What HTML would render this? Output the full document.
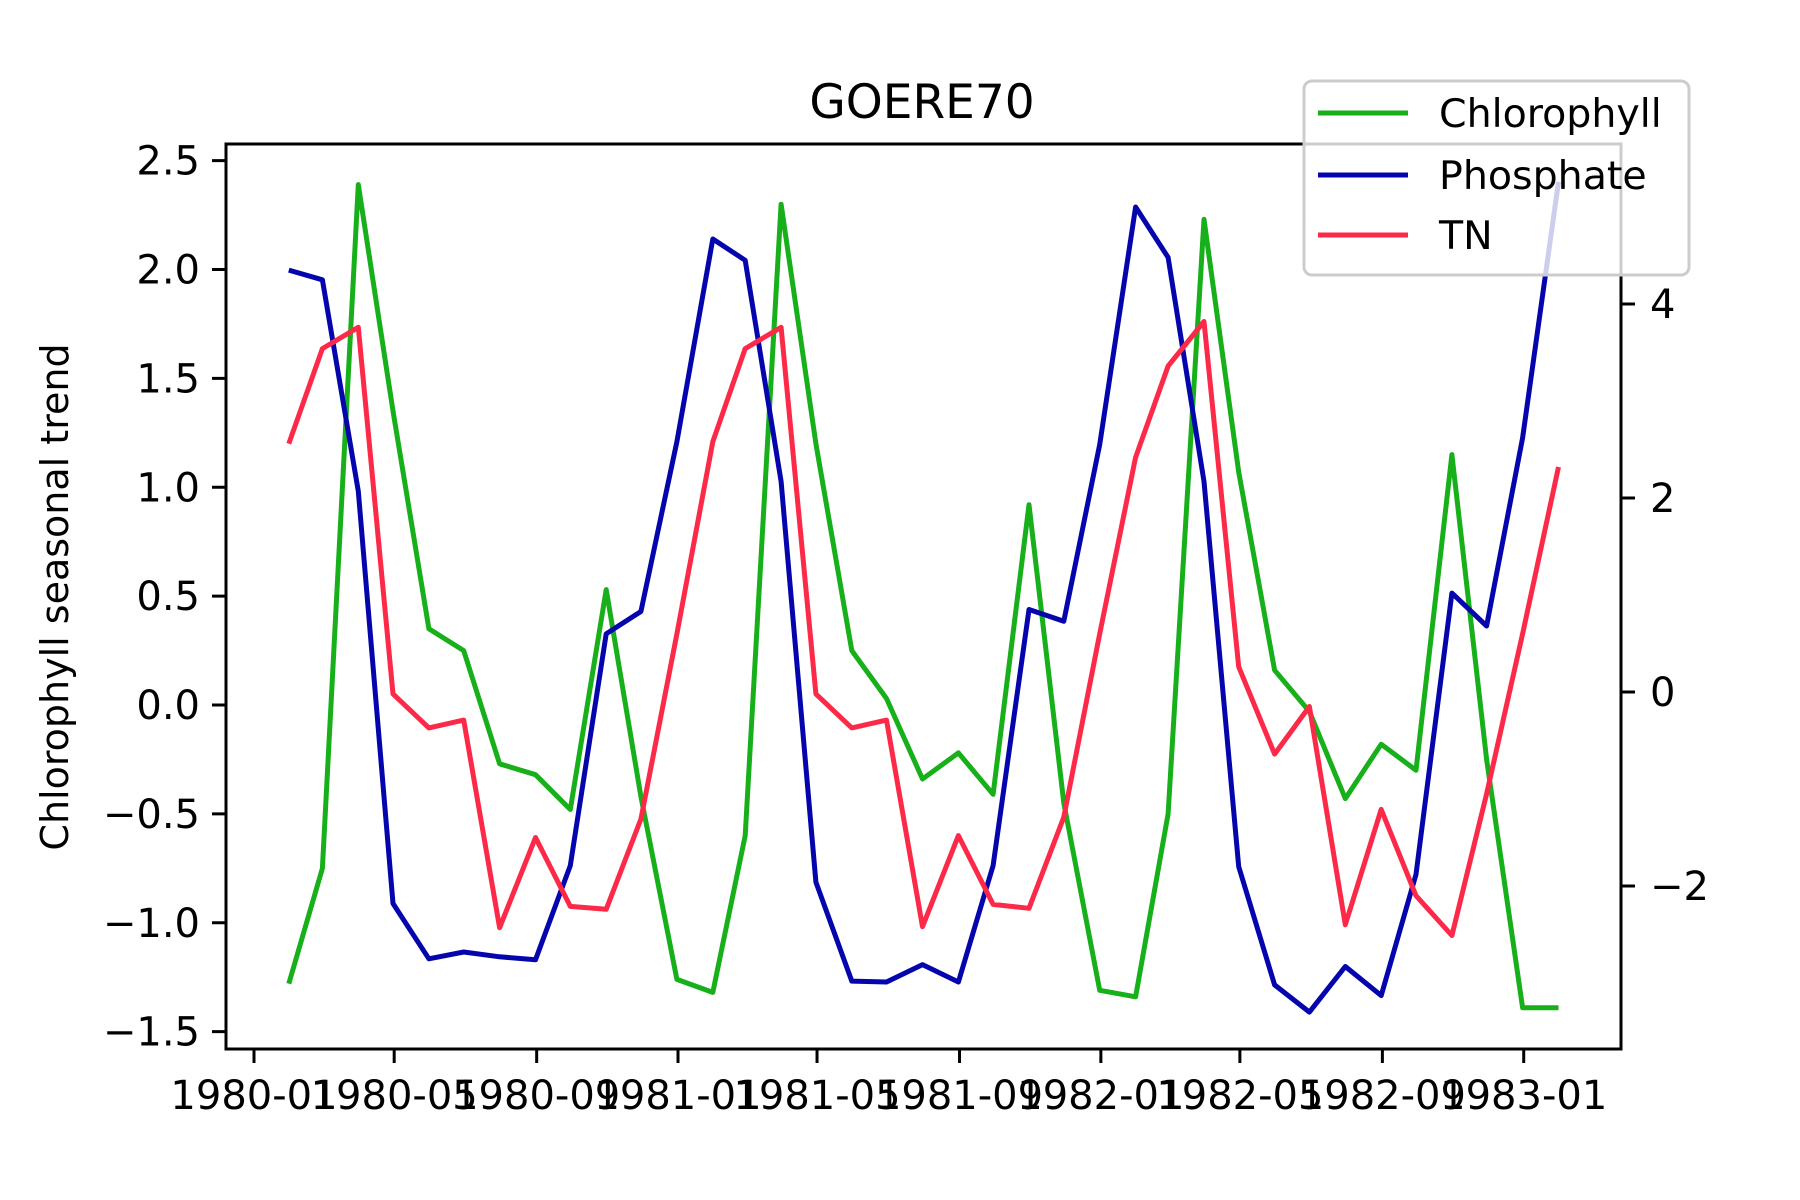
<!DOCTYPE html>
<html><head><meta charset="utf-8">
<style>
html,body{margin:0;padding:0;background:#fff;}
svg{display:block;font-family:"DejaVu Sans","Liberation Sans",sans-serif;}
</style></head>
<body>
<svg id="chart" width="1800" height="1200" viewBox="0 0 1800 1200" xmlns="http://www.w3.org/2000/svg">
<rect width="1800" height="1200" fill="#fff"/>
<text x="922" y="118" font-size="47" text-anchor="middle" fill="#000">GOERE70</text>
<text transform="translate(68,597) rotate(-90)" font-size="38" text-anchor="middle" fill="#000">Chlorophyll seasonal trend</text>
<g id="marks"></g>
<rect x="226" y="144" width="1395" height="905" fill="none" stroke="#000" stroke-width="3"/>
<g id="axes"></g>
<g id="legend">
  <rect x="1304" y="81" width="385" height="194" rx="8" fill="rgba(255,255,255,0.8)" stroke="#cccccc" stroke-width="3"/>
  <line x1="1318" y1="113" x2="1408" y2="113" stroke="#17b01b" stroke-width="5"/>
  <text x="1439" y="127" font-size="39.5">Chlorophyll</text>
  <line x1="1318" y1="175" x2="1408" y2="175" stroke="#0505ae" stroke-width="5"/>
  <text x="1439" y="189" font-size="39.5">Phosphate</text>
  <line x1="1318" y1="235" x2="1408" y2="235" stroke="#fc2a48" stroke-width="5"/>
  <text x="1439" y="249" font-size="39.5">TN</text>
</g>
</svg>
<script>
const chlorophyll = [-1.28,-0.75,2.39,1.35,0.35,0.25,-0.27,-0.32,-0.48,0.53,-0.42,-1.26,-1.32,-0.60,2.30,1.20,0.25,0.03,-0.34,-0.22,-0.41,0.92,-0.45,-1.31,-1.34,-0.50,2.23,1.07,0.16,-0.03,-0.43,-0.18,-0.30,1.15,-0.25,-1.39,-1.39];
const phosphate = [4.35,4.25,2.07,-2.18,-2.75,-2.68,-2.73,-2.76,-1.79,0.60,0.83,2.58,4.67,4.45,2.17,-1.96,-2.98,-2.99,-2.81,-2.99,-1.79,0.85,0.73,2.55,5.0,4.48,2.17,-1.80,-3.02,-3.30,-2.83,-3.13,-1.88,1.02,0.68,2.62,5.26];
const tn = [2.56,3.54,3.76,-0.02,-0.37,-0.29,-2.43,-1.50,-2.21,-2.24,-1.31,0.60,2.58,3.54,3.76,-0.02,-0.37,-0.29,-2.42,-1.48,-2.19,-2.23,-1.29,0.60,2.42,3.36,3.82,0.26,-0.64,-0.15,-2.40,-1.21,-2.10,-2.51,-1.05,0.60,2.32];
const xTickLabels = ["1980-01","1980-05","1980-09","1981-01","1981-05","1981-09","1982-01","1982-05","1982-09","1983-01"];
const leftTicks = [-1.5,-1.0,-0.5,0.0,0.5,1.0,1.5,2.0,2.5];
const rightTicks = [-2,0,2,4];

const NS = "http://www.w3.org/2000/svg";
const origin = Date.UTC(1980,0,1);
function dayOf(y,m,d){return (Date.UTC(y,m,d)-origin)/86400000;}
function xs(days){return 254 + days*1.1585;}
function yL(v){return 705 - 217.75*v;}
function yR(v){return 692 - 97*v;}
const dates = chlorophyll.map((_,i)=>dayOf(1980, i+1, 0));

const marks = document.getElementById('marks');
function series(vals, yf, color, name){
  const pts = vals.map((v,i)=>xs(dates[i]).toFixed(1)+","+yf(v).toFixed(1)).join(" ");
  const pl = document.createElementNS(NS,'polyline');
  pl.setAttribute('points', pts);
  pl.setAttribute('fill','none');
  pl.setAttribute('stroke',color);
  pl.setAttribute('stroke-width','5');
  pl.setAttribute('stroke-linejoin','round');
  
  
  marks.appendChild(pl);
}
series(chlorophyll, yL, '#17b01b', 'chlorophyll-line');
series(phosphate, yR, '#0505ae', 'phosphate-line');
series(tn, yR, '#fc2a48', 'tn-line');

const axes = document.getElementById('axes');
function mk(tag, attrs, text){
  const e = document.createElementNS(NS, tag);
  for (const k in attrs) e.setAttribute(k, attrs[k]);
  if (text !== undefined) e.textContent = text;
  axes.appendChild(e);
  return e;
}
xTickLabels.forEach(lbl=>{
  const [yy,mm] = lbl.split('-').map(Number);
  const x = xs(dayOf(yy, mm-1, 1));
  const t = mk('line',{x1:x,y1:1049,x2:x,y2:1063,stroke:'#000','stroke-width':3});
  
  
  const tx = mk('text',{x:x,y:1109,'font-size':40,'text-anchor':'middle',fill:'#000'}, lbl);
  
  
});
leftTicks.forEach(v=>{
  const y = yL(v);
  const t = mk('line',{x1:212,y1:y,x2:226,y2:y,stroke:'#000','stroke-width':3});
  
  
  const s = (v<0?'\u2212':'') + Math.abs(v).toFixed(1);
  const tx = mk('text',{x:200,y:y+14,'font-size':40,'text-anchor':'end',fill:'#000'}, s);
  
  
});
rightTicks.forEach(v=>{
  const y = yR(v);
  const t = mk('line',{x1:1621,y1:y,x2:1635,y2:y,stroke:'#000','stroke-width':3});
  
  
  const s = (v<0?'\u2212':'') + Math.abs(v);
  const tx = mk('text',{x:1650,y:y+14,'font-size':40,'text-anchor':'start',fill:'#000'}, s);
  
  
});
</script>
</body></html>
